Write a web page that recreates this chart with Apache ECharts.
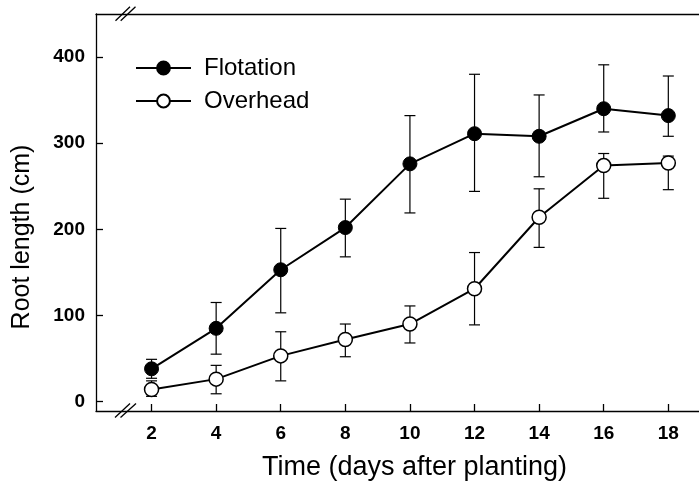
<!DOCTYPE html>
<html>
<head>
<meta charset="utf-8">
<script src="https://cdn.jsdelivr.net/npm/echarts@6/dist/echarts.min.js"></script>
<style>html,body{margin:0;padding:0;background:#fff}#c{width:699px;height:491px}</style>
</head>
<body>
<div id="c"></div>
<script>
const xValues = [2, 4, 6, 8, 10, 12, 14, 16, 18];
const flotation = [38, 85, 153, 202, 276, 311, 308, 340, 332];
const flotationLow = [27, 55, 103, 168, 219, 244, 261, 313, 308];
const flotationHigh = [49, 115, 201, 235, 332, 380, 356, 391, 378];
const overhead = [14, 26, 53, 72, 90, 131, 214, 274, 277];
const overheadLow = [6, 9, 24, 52, 68, 89, 179, 236, 246];
const overheadHigh = [24, 42, 81, 90, 111, 173, 247, 288, 285];
const yTicks = [0, 100, 200, 300, 400];
const xTicks = [2, 4, 6, 8, 10, 12, 14, 16, 18];
const seriesNames = ['Flotation', 'Overhead'];
const xTitle = 'Time (days after planting)';
const yTitle = 'Root length (cm)';

const FONT = 'Liberation Sans, Arial, sans-serif';
const chart = echarts.init(document.getElementById('c'), null, {renderer: 'canvas'});

function errorRender(params, api) {
  const x = api.value(0), lo = api.value(1), hi = api.value(2);
  const pLo = api.coord([x, lo]);
  const pHi = api.coord([x, hi]);
  const w = 5.5;
  const st = {stroke: '#000', lineWidth: 1.2};
  return {
    type: 'group',
    children: [
      {type: 'line', shape: {x1: pLo[0], y1: pLo[1], x2: pHi[0], y2: pHi[1]}, style: st},
      {type: 'line', shape: {x1: pLo[0] - w, y1: pLo[1], x2: pLo[0] + w, y2: pLo[1]}, style: st},
      {type: 'line', shape: {x1: pHi[0] - w, y1: pHi[1], x2: pHi[0] + w, y2: pHi[1]}, style: st}
    ]
  };
}

const pts = (ys) => xValues.map((x, i) => [x, ys[i]]);
const errs = (lo, hi) => xValues.map((x, i) => [x, lo[i], hi[i]]);

const breakStyle = {stroke: '#000', lineWidth: 1.3};
const option = {
  animation: false,
  backgroundColor: '#fff',
  textStyle: {fontFamily: FONT, color: '#000'},
  grid: {left: 96, right: 0, top: 14, bottom: 80, containLabel: false},
  xAxis: [{
    type: 'value', min: 0.28, max: 18.95, position: 'bottom',
    axisLine: {show: true, onZero: false, lineStyle: {color: '#000', width: 1.3}},
    axisTick: {show: true, inside: true, length: 7, customValues: xTicks, lineStyle: {color: '#000', width: 1.3}},
    axisLabel: {customValues: xTicks, margin: 13, fontSize: 19, fontWeight: 'bold', color: '#000', fontFamily: FONT},
    splitLine: {show: false}
  }, {
    type: 'value', min: 0.28, max: 18.95, position: 'top',
    axisLine: {show: true, onZero: false, lineStyle: {color: '#000', width: 1.3}},
    axisTick: {show: false}, axisLabel: {show: false}, splitLine: {show: false}
  }],
  yAxis: {
    type: 'value', min: -11, max: 450,
    axisLine: {show: true, onZero: false, lineStyle: {color: '#000', width: 1.3}},
    axisTick: {show: true, inside: true, length: 7, customValues: yTicks, lineStyle: {color: '#000', width: 1.3}},
    axisLabel: {customValues: yTicks, margin: 11, fontSize: 19, fontWeight: 'bold', color: '#000', fontFamily: FONT},
    splitLine: {show: false}
  },
  legend: {
    left: 130, top: 50, orient: 'vertical',
    itemWidth: 55, itemHeight: 16, itemGap: 7,
    textStyle: {fontSize: 24, color: '#000', fontFamily: FONT, lineHeight: 26, padding: [0, 0, 0, 8]},
    data: seriesNames
  },
  series: [
    {type: 'custom', name: 'errF', renderItem: errorRender, data: errs(flotationLow, flotationHigh), z: 1, encode: {x: 0, y: [1, 2]}, silent: true},
    {type: 'custom', name: 'errO', renderItem: errorRender, data: errs(overheadLow, overheadHigh), z: 1, encode: {x: 0, y: [1, 2]}, silent: true},
    {
      type: 'line', name: seriesNames[0], data: pts(flotation), z: 3,
      symbol: 'circle', symbolSize: 14,
      lineStyle: {color: '#000', width: 2},
      itemStyle: {color: '#000', borderColor: '#000', borderWidth: 1}
    },
    {
      type: 'line', name: seriesNames[1], data: pts(overhead), z: 3,
      symbol: 'circle', symbolSize: 14,
      lineStyle: {color: '#000', width: 2},
      itemStyle: {color: '#fff', borderColor: '#000', borderWidth: 1.5}
    }
  ],
  graphic: [
    {type: 'line', shape: {x1: 115.5, y1: 20.7, x2: 130, y2: 6.7}, style: breakStyle, z: 10},
    {type: 'line', shape: {x1: 120.7, y1: 20.7, x2: 135.5, y2: 6.7}, style: breakStyle, z: 10},
    {type: 'line', shape: {x1: 115, y1: 417.5, x2: 130, y2: 403.5}, style: breakStyle, z: 10},
    {type: 'line', shape: {x1: 120.5, y1: 417.5, x2: 136, y2: 403.5}, style: breakStyle, z: 10},
    {type: 'text', x: 414.5, y: 468,
      style: {text: xTitle, font: '27px ' + FONT, fill: '#000', align: 'center', verticalAlign: 'middle'}},
    {type: 'text', rotation: Math.PI / 2, x: 22, y: 237,
      style: {text: yTitle, font: '25px ' + FONT, fill: '#000', align: 'center', verticalAlign: 'middle'}}
  ]
};
chart.setOption(option);
</script>
</body>
</html>
